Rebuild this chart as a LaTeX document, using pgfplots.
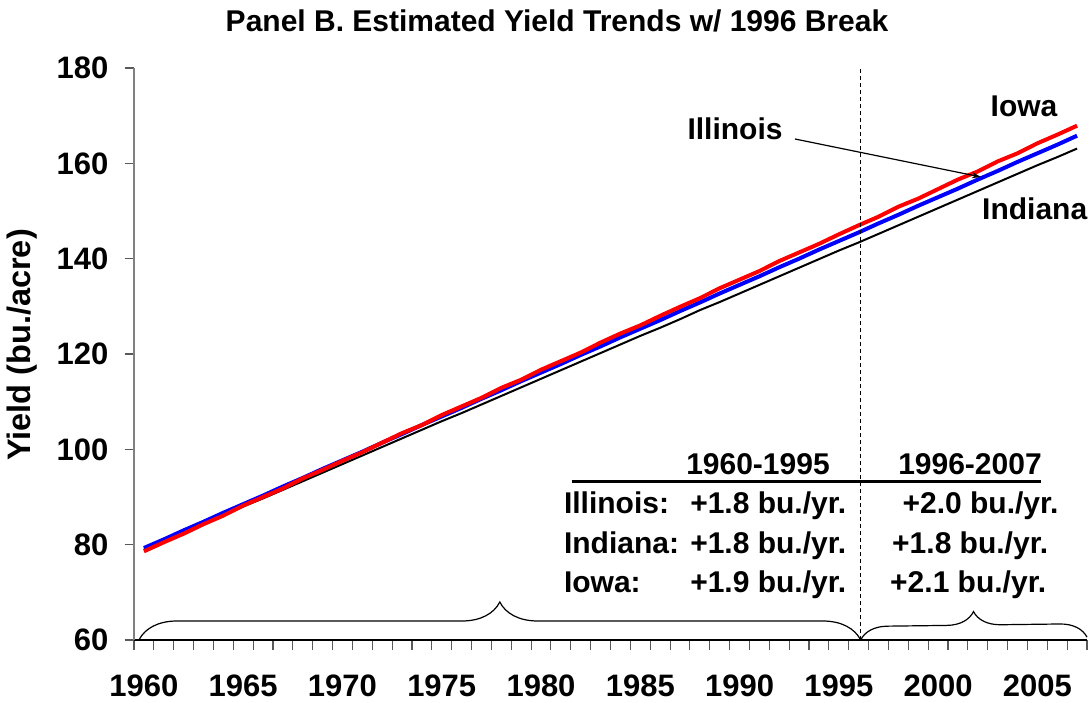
\documentclass[border=0pt]{standalone}
\usepackage{pgfplots}
\pgfplotsset{compat=1.18}
\usepackage{fontspec}
\setmainfont{Liberation Sans}
\usetikzlibrary{decorations.pathreplacing,arrows.meta}
\newcommand\F{\fontsize{30}{36}\selectfont\bfseries}
\begin{document}
\begin{tikzpicture}
\path[use as bounding box] (-134pt,-62pt) rectangle (955pt,640pt);
\begin{axis}[
  at={(0pt,0pt)}, anchor=south west,
  scale only axis, width=953pt, height=572pt,
  xmin=1959.5, xmax=2007.5, ymin=60, ymax=180,
  axis x line*=bottom, axis y line*=left,
  x axis line style={black, line width=1.2pt, -},
  y axis line style={gray, line width=1.2pt, -},
  tick align=outside, major tick length=9.5pt,
  every tick/.style={gray!70!black, line width=1.1pt},
  xtick={1959.5,1960.5,...,2007.5}, xticklabels={},
  extra x ticks={1960,1965,1970,1975,1980,1985,1990,1995,2000,2005},
  extra x tick labels={1960,1965,1970,1975,1980,1985,1990,1995,2000,2005},
  extra x tick style={major tick length=0pt, tick label style={font=\fontsize{31}{36}\selectfont\bfseries, inner sep=0pt, anchor=north, yshift=-35pt}},
  ytick={60,80,...,180},
  yticklabel style={font=\fontsize{31}{36}\selectfont\bfseries, inner sep=0pt, anchor=east, xshift=-16pt},
  /pgf/number format/assume math mode=true,
  /pgf/number format/1000 sep={},
  clip=false,
]
\addplot[black, line width=2pt, line join=round] coordinates {
(1960,79.0)(1961,80.8)(1962,82.6)(1963,84.4)(1964,86.2)(1965,88.0)(1966,89.7)(1967,91.5)(1968,93.3)(1969,95.1)
(1970,96.9)(1971,98.7)(1972,100.5)(1973,102.3)(1974,104.1)(1975,105.9)(1976,107.6)(1977,109.4)(1978,111.2)(1979,113.0)
(1980,114.8)(1981,116.6)(1982,118.4)(1983,120.2)(1984,122.0)(1985,123.8)(1986,125.5)(1987,127.3)(1988,129.2)(1989,130.9)
(1990,132.7)(1991,134.5)(1992,136.3)(1993,138.1)(1994,139.9)(1995,141.7)(1996,143.4)(1997,145.2)(1998,147.0)(1999,148.8)
(2000,150.6)(2001,152.4)(2002,154.2)(2003,156.0)(2004,157.8)(2005,159.6)(2006,161.3)(2007,163.1)};
\addplot[blue, line width=4pt, line join=round] coordinates {
(1960,79.3)(1961,81.1)(1962,83.0)(1963,84.8)(1964,86.7)(1965,88.5)(1966,90.3)(1967,92.2)(1968,94.0)(1969,95.9)
(1970,97.7)(1971,99.5)(1972,101.4)(1973,103.2)(1974,105.1)(1975,106.9)(1976,108.7)(1977,110.6)(1978,112.4)(1979,114.3)
(1980,116.1)(1981,117.9)(1982,119.8)(1983,121.6)(1984,123.5)(1985,125.3)(1986,127.1)(1987,129.0)(1988,130.8)(1989,132.7)
(1990,134.5)(1991,136.3)(1992,138.2)(1993,140.0)(1994,141.9)(1995,143.7)(1996,145.5)(1997,147.4)(1998,149.2)(1999,151.1)
(2000,152.9)(2001,154.7)(2002,156.6)(2003,158.4)(2004,160.3)(2005,162.1)(2006,163.9)(2007,165.8)};
\addplot[red, line width=4pt, line join=round] coordinates {
(1960,78.6)(1961,80.5)(1962,82.3)(1963,84.3)(1964,86.1)(1965,88.2)(1966,90.0)(1967,91.8)(1968,93.9)(1969,95.7)
(1970,97.6)(1971,99.4)(1972,101.4)(1973,103.4)(1974,105.1)(1975,107.2)(1976,109.0)(1977,110.8)(1978,112.9)(1979,114.6)
(1980,116.7)(1981,118.5)(1982,120.3)(1983,122.4)(1984,124.3)(1985,126.0)(1986,128.0)(1987,129.9)(1988,131.7)(1989,133.8)
(1990,135.6)(1991,137.4)(1992,139.5)(1993,141.3)(1994,143.1)(1995,145.1)(1996,147.0)(1997,148.8)(1998,150.9)(1999,152.6)
(2000,154.6)(2001,156.6)(2002,158.3)(2003,160.4)(2004,162.1)(2005,164.2)(2006,166.0)(2007,167.9)};
\draw[black, line width=1.2pt, dash pattern=on 4pt off 3pt] (axis cs:1996.1,60) -- (axis cs:1996.1,180);
\draw[black, line width=1.2pt, decorate, decoration={brace, amplitude=38pt}] (axis cs:1959.75,60) -- (axis cs:1996.1,60);
\draw[black, line width=1.2pt, decorate, decoration={brace, amplitude=27pt}] (axis cs:1996.1,60) -- (axis cs:2007.5,60.6);
\end{axis}
\node[inner sep=0pt, anchor=base, font=\F] at (423pt,608pt) {Panel B. Estimated Yield Trends w/ 1996 Break};
\node[inner sep=0pt, rotate=90, font=\fontsize{32.5}{38}\selectfont\bfseries] at (-112pt,295pt) {Yield (bu./acre)};
% table
\node[inner sep=0pt, anchor=base, font=\F] at (624pt,166pt) {1960-1995};
\node[inner sep=0pt, anchor=base, font=\F] at (836pt,166pt) {1996-2007};
\draw[line width=3.5pt] (437.5pt,158.7pt) -- (906.7pt,158.7pt);
\node[inner sep=0pt, anchor=base west, font=\F] at (429.8pt,126.5pt) {Illinois:};
\node[inner sep=0pt, anchor=base east, font=\F] at (712.4pt,126.5pt) {+1.8 bu./yr.};
\node[inner sep=0pt, anchor=base west, font=\F] at (768.4pt,126.5pt) {+2.0 bu./yr.};
\node[inner sep=0pt, anchor=base west, font=\F] at (429.8pt,87pt) {Indiana:};
\node[inner sep=0pt, anchor=base east, font=\F] at (712.4pt,87pt) {+1.8 bu./yr.};
\node[inner sep=0pt, anchor=base west, font=\F] at (758pt,87pt) {+1.8 bu./yr.};
\node[inner sep=0pt, anchor=base west, font=\F] at (429.8pt,47.7pt) {Iowa:};
\node[inner sep=0pt, anchor=base east, font=\F] at (712.4pt,47.7pt) {+1.9 bu./yr.};
\node[inner sep=0pt, anchor=base west, font=\F] at (756pt,47.7pt) {+2.1 bu./yr.};
% series labels
\node[inner sep=0pt, anchor=base, font=\F] at (890pt,523pt) {Iowa};
\node[inner sep=0pt, anchor=base, font=\F] at (601pt,500pt) {Illinois};
\node[inner sep=0pt, anchor=base west, font=\F] at (848pt,420pt) {Indiana};
\draw[line width=1.2pt, -{Stealth[length=9pt,width=6pt]}] (661pt,501pt) -- (847pt,463pt);
\end{tikzpicture}
\end{document}
